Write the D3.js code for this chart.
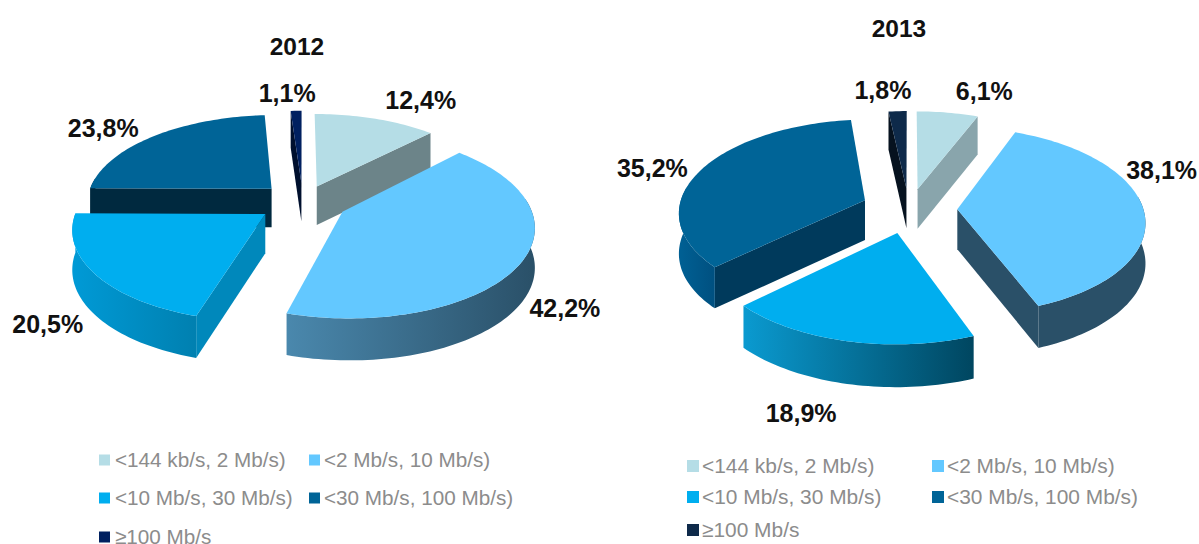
<!DOCTYPE html>
<html><head><meta charset="utf-8">
<script src="https://cdn.jsdelivr.net/npm/d3@7"></script>
<style>html,body{margin:0;padding:0;background:#fff;overflow:hidden}svg{display:block}
text{font-family:"Liberation Sans",Arial,sans-serif}</style></head><body>
<svg id="c" width="1199" height="544"></svg>
<script>
const categories = ["<144 kb/s, 2 Mb/s)","<2 Mb/s, 10 Mb/s)","<10 Mb/s, 30 Mb/s)","<30 Mb/s, 100 Mb/s)","≥100 Mb/s"];
const values2012 = [12.4,42.2,20.5,23.8,1.1];
const values2013 = [6.1,38.1,18.9,35.2,1.8];
const labels2012 = ["12,4%","42,2%","20,5%","23,8%","1,1%"];
const labels2013 = ["6,1%","38,1%","18,9%","35,2%","1,8%"];

const topColors2012 = ["#b5dde6","#63c8ff","#00aeef","#006497","#002060"];
const topColors2013 = ["#b5dde6","#63c8ff","#00aeef","#006497","#0e2a4a"];
const cutColors2012 = ["#6c8489","#2a5068","#0088bb","#00293f","#00102e"];
const cutColors2013 = ["#89a5ac","#2a5068","#0088bb","#003a5c","#06121f"];
const rimFrom2012 = ["#6c8489","#4a88ad","#009ad6","#00293f","#00102e"];
const rimTo2012   = ["#6c8489","#2a5068","#0080b0","#00293f","#00102e"];
const rimFrom2013 = ["#89a5ac","#2a5068","#0a9ad0","#006094","#06121f"];
const rimTo2013   = ["#89a5ac","#2a5068","#004660","#005080","#06121f"];

const charts = [
 {id:"a",title:"2012",titleX:297,titleY:55,values:values2012,labels:labels2012,top:topColors2012,cut:cutColors2012,rimFrom:rimFrom2012,rimTo:rimTo2012,
  cx:303,cy:203,R:186,Ry:88,k:.14,e:.26,D:39,
  sliceShift:[[-4,4],[-3,-3],[2,-3],[3,1],[0,2]],
  labelNudge:[[30,-2],[-3,31],[-3,33],[-24,3],[-8,-2]],
  legendX:[99,309],legendTextDx:[16,15],legendY:[460,498,537],legendSize:20.7,swatch:11,legendLayout:[[0,0],[1,0],[0,1],[1,1],[0,2]]},
 {id:"b",title:"2013",titleX:899,titleY:37,values:values2013,labels:labels2013,top:topColors2013,cut:cutColors2013,rimFrom:rimFrom2013,rimTo:rimTo2013,
  cx:909,cy:208,R:186,Ry:92,k:.12,e:.249,D:40,
  sliceShift:[[0,3],[2,1],[-1,2],[-1,0],[0,3]],
  labelNudge:[[31,-4],[-21,-39],[-34,46],[-15,4],[-13,-3]],
  legendX:[687,932],legendTextDx:[15,15],legendY:[466,497,530],legendSize:20.9,swatch:12,legendLayout:[[0,0],[1,0],[0,1],[1,1],[0,2]]}
];

const svg = d3.select("#c");
const defs = svg.append("defs");
const line = d3.line();
const pie = d3.pie().sort(null).value(d=>d);

function drawChart(c){
  const proj = (u,v,drop=0)=>{
    const s=1/(1-c.k*v);
    return [c.cx+c.R*u*s, c.cy+c.Ry*v*s+drop*c.D*(1+(s-1)*.4)];
  };
  const arcs = pie(c.values).map((a,i)=>{
    const mid=(a.startAngle+a.endAngle)/2;
    return {...a,i,mid,ax:c.e*Math.sin(mid),ay:-c.e*Math.cos(mid)};
  }).sort((p,q)=>p.ay-q.ay);
  const g = svg.append("g");
  arcs.forEach(a=>{
    const [sx,sy]=c.sliceShift[a.i];
    const off=p=>[p[0]+sx,p[1]+sy];
    const n=Math.max(2,Math.ceil((a.endAngle-a.startAngle)*40));
    const rimAngles=d3.range(n+1).map(j=>a.startAngle+(a.endAngle-a.startAngle)*j/n);
    const rimPt=(t,drop)=>off(proj(a.ax+Math.sin(t),a.ay-Math.cos(t),drop));
    const apex=d=>off(proj(a.ax,a.ay,d));
    const quad=(p,q)=>[p(0),q(0),q(1),p(1)];
    const sg=g.append("g");
    if(Math.sin(a.startAngle)<0){
      sg.append("path").attr("d",line(quad(apex,d=>rimPt(a.startAngle,d)))+"Z").attr("fill",c.cut[a.i]);
    }
    if(Math.sin(a.endAngle)>0){
      sg.append("path").attr("d",line(quad(d=>rimPt(a.endAngle,d),apex))+"Z").attr("fill",c.cut[a.i]);
    }
    const vis=rimAngles.filter(t=>t>=Math.PI/2-0.15&&t<=Math.PI*1.5+0.15);
    if(vis.length>1){
      const gid=`rim-${c.id}-${a.i}`;
      const gr=defs.append("linearGradient").attr("id",gid).attr("x1",0).attr("x2",1).attr("y1",0).attr("y2",0);
      gr.append("stop").attr("offset",0).attr("stop-color",c.rimFrom[a.i]);
      gr.append("stop").attr("offset",1).attr("stop-color",c.rimTo[a.i]);
      const pts=vis.map(t=>rimPt(t,0)).concat(vis.slice().reverse().map(t=>rimPt(t,1)));
      sg.append("path").attr("d",line(pts)+"Z").attr("fill",`url(#${gid})`);
    }
    const outline=[apex(0)].concat(rimAngles.map(t=>rimPt(t,0)));
    sg.append("path").attr("d",line(outline)+"Z").attr("fill",c.top[a.i]);
  });
  const lg=svg.append("g");
  arcs.forEach(a=>{
    const p=proj(a.ax+1.22*Math.sin(a.mid),a.ay-1.22*Math.cos(a.mid));
    const nd=c.labelNudge[a.i];
    lg.append("text").attr("x",p[0]+nd[0]).attr("y",p[1]+nd[1]+9).attr("text-anchor","middle")
      .attr("font-size",25).attr("font-weight","bold").attr("fill","#111").text(c.labels[a.i]);
  });
  svg.append("text").attr("x",c.titleX).attr("y",c.titleY).attr("text-anchor","middle").attr("font-size",24.5).attr("font-weight","bold").attr("fill","#111").text(c.title);
  categories.forEach((t,i)=>{
    const [col,row]=c.legendLayout[i];
    const x=c.legendX[col], y=c.legendY[row];
    svg.append("rect").attr("x",x).attr("y",y-c.swatch/2).attr("width",c.swatch).attr("height",c.swatch).attr("fill",c.top[i]);
    svg.append("text").attr("x",x+c.legendTextDx[col]).attr("y",y+7).attr("font-size",c.legendSize).attr("fill","#8c8c8c").text(t);
  });
}
charts.forEach(drawChart);
</script></body></html>
